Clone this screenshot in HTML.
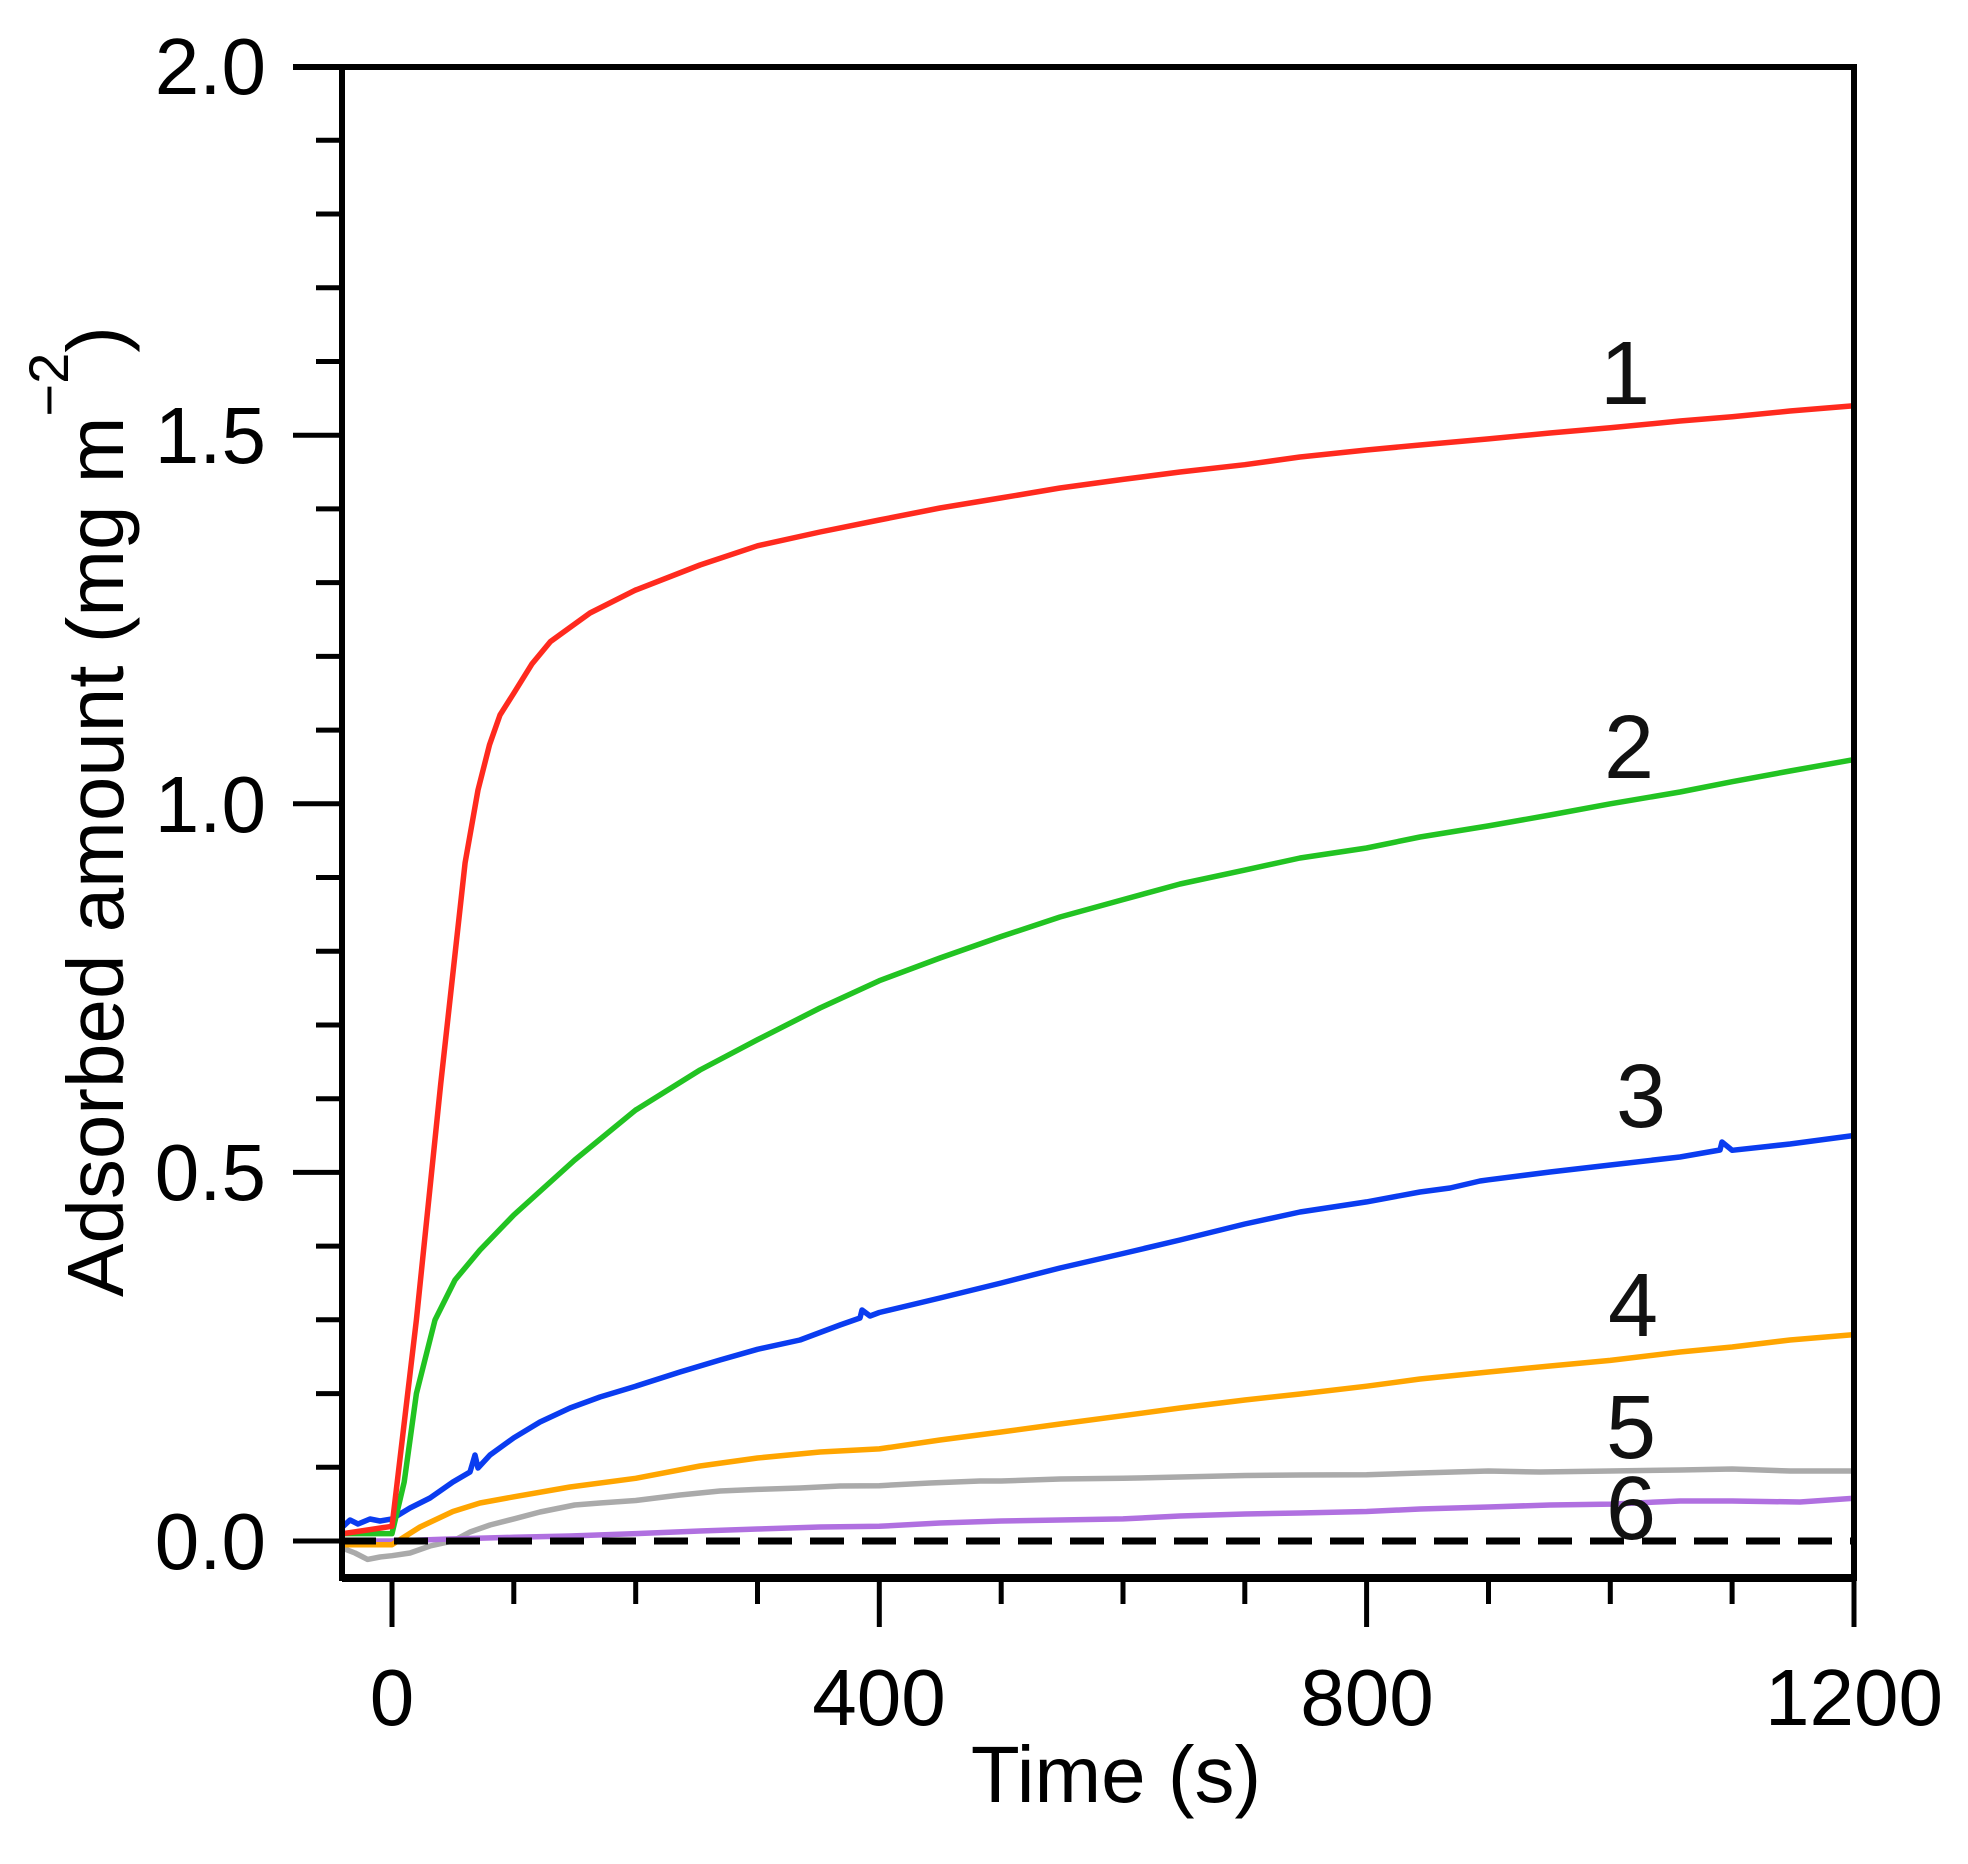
<!DOCTYPE html>
<html><head><meta charset="utf-8"><style>
html,body{margin:0;padding:0;background:#fff;}
svg{display:block;font-family:"Liberation Sans",sans-serif;}
</style></head><body>
<svg width="1968" height="1864" viewBox="0 0 1968 1864" xmlns="http://www.w3.org/2000/svg">
<rect width="1968" height="1864" fill="#fff"/>
<g fill="none" stroke-width="5.5" stroke-linejoin="round">
<polyline stroke="#aaaaaa" points="343.3,1548.4 355,1553 367.6,1559.4 380,1557 392,1555.7 410,1553 430,1546 452.9,1541 470,1532 490,1525 513.8,1518.9 540,1512 574.7,1505 600,1503 635.7,1500.5 680,1495 720,1491 757.5,1489.4 800,1488 840,1486 879.3,1485.7 930,1483 980,1481 1001.2,1481 1060,1479 1123,1478.3 1180,1477 1244.8,1475.5 1300,1475 1366.6,1474.7 1420,1473 1488.5,1471 1540,1472 1610.3,1471 1680,1470 1732.1,1469 1790,1471 1854,1471"/>
<polyline stroke="#b070e0" points="343.3,1541 392,1541 450,1539 513.8,1537.3 570,1536 635.7,1533.6 700,1531 757.5,1529 820,1527 879.3,1526.3 940,1523 1001.2,1521 1060,1520 1123,1518.9 1180,1516 1244.8,1514 1300,1513 1366.6,1511.5 1420,1509 1488.5,1507 1550,1505 1610.3,1504.1 1680,1501 1732.1,1501 1800,1502 1854,1498.2"/>
<polyline stroke="#ffa500" points="343.3,1544.7 392,1544.7 420,1527 452.9,1511.5 480,1503 513.8,1496.8 570,1487 635.7,1478.3 700,1466 757.5,1458 820,1452 879.3,1448.9 940,1440 1001.2,1432 1060,1424 1123,1415.7 1180,1408 1244.8,1400 1300,1394 1366.6,1386.2 1420,1379 1488.5,1372 1550,1366 1610.3,1360.4 1680,1352 1732.1,1347 1790,1340 1854,1334.6"/>
<polyline stroke="#0a3cf0" points="343.3,1526.3 350,1520 358,1524 370,1519 380,1521 392,1518.9 410,1508 430,1498 452.9,1482 470,1472 475,1455 478,1468 490,1455 513.8,1437.8 540,1422 570,1408 600,1397 635.7,1386.2 680,1372 720,1360 757.5,1349.3 800,1340 840,1325 860,1318 862,1310 870,1316 879.3,1312.5 940,1298 1001.2,1283 1060,1268 1123,1253.5 1180,1240 1244.8,1224 1300,1212 1366.6,1201.9 1420,1192 1450,1188 1480,1181 1488.5,1179.8 1550,1172 1610.3,1165 1680,1157 1720,1150 1722,1142 1732.1,1150.3 1790,1144 1854,1135.5"/>
<polyline stroke="#22c322" points="343.3,1533.6 392,1533.6 404.2,1482 416.4,1393.6 435,1320 455,1280 480,1250 513.8,1215 574.7,1160 635.7,1110 700,1070 757.5,1039.7 820,1008 879.3,980.7 940,958 1001.2,936.5 1060,917 1123,899.6 1180,884 1244.8,870.1 1300,858 1366.6,848 1420,837 1488.5,825.9 1550,815 1610.3,803.8 1680,792 1732.1,781.7 1790,771 1854,759.6"/>
<polyline stroke="#ff2a1e" points="343.3,1533.6 392,1526.3 416.4,1319.8 440.7,1084 465.1,862.8 478,790 489.5,744.8 500,715 513.8,693.2 532.1,663.7 550.4,641.6 590,613 635.7,590 700,565 757.5,545.8 820,532 879.3,520 940,508 1001.2,497.9 1060,488 1123,479.4 1180,472 1244.8,464.7 1300,457 1366.6,450 1420,445 1488.5,438.9 1550,433 1610.3,427.8 1680,421 1732.1,416.8 1790,411 1854,405.7"/>
</g>
<line x1="342" y1="1541" x2="1854" y2="1541" stroke="#000" stroke-width="7" stroke-dasharray="34,18"/>
<g stroke="#000" stroke-width="6" fill="none">
<polyline points="293,67 1854,67 1854,1578 342,1578 342,67"/>
<line x1="342" y1="1578" x2="1854" y2="1578" stroke-width="8"/>
</g>
<g stroke="#000" stroke-width="5">
<line x1="293" y1="1541" x2="342" y2="1541"/><line x1="316" y1="1467.3" x2="342" y2="1467.3"/><line x1="316" y1="1393.6" x2="342" y2="1393.6"/><line x1="316" y1="1319.8" x2="342" y2="1319.8"/><line x1="316" y1="1246.1" x2="342" y2="1246.1"/>
<line x1="293" y1="1172.4" x2="342" y2="1172.4"/><line x1="316" y1="1098.7" x2="342" y2="1098.7"/><line x1="316" y1="1025" x2="342" y2="1025"/><line x1="316" y1="951.2" x2="342" y2="951.2"/><line x1="316" y1="877.5" x2="342" y2="877.5"/>
<line x1="293" y1="803.8" x2="342" y2="803.8"/><line x1="316" y1="730.1" x2="342" y2="730.1"/><line x1="316" y1="656.4" x2="342" y2="656.4"/><line x1="316" y1="582.6" x2="342" y2="582.6"/><line x1="316" y1="508.9" x2="342" y2="508.9"/>
<line x1="293" y1="435.2" x2="342" y2="435.2"/><line x1="316" y1="361.5" x2="342" y2="361.5"/><line x1="316" y1="287.8" x2="342" y2="287.8"/><line x1="316" y1="214" x2="342" y2="214"/><line x1="316" y1="140.3" x2="342" y2="140.3"/>
<line x1="392" y1="1578" x2="392" y2="1627"/><line x1="513.8" y1="1578" x2="513.8" y2="1604"/><line x1="635.7" y1="1578" x2="635.7" y2="1604"/><line x1="757.5" y1="1578" x2="757.5" y2="1604"/>
<line x1="879.3" y1="1578" x2="879.3" y2="1627"/><line x1="1001.2" y1="1578" x2="1001.2" y2="1604"/><line x1="1123" y1="1578" x2="1123" y2="1604"/><line x1="1244.8" y1="1578" x2="1244.8" y2="1604"/>
<line x1="1366.6" y1="1578" x2="1366.6" y2="1627"/><line x1="1488.5" y1="1578" x2="1488.5" y2="1604"/><line x1="1610.3" y1="1578" x2="1610.3" y2="1604"/><line x1="1732.1" y1="1578" x2="1732.1" y2="1604"/>
<line x1="1854" y1="1578" x2="1854" y2="1627"/>
</g>
<g font-size="80" fill="#000" text-anchor="end">
<text x="266" y="94">2.0</text>
<text x="266" y="463">1.5</text>
<text x="266" y="832">1.0</text>
<text x="266" y="1200">0.5</text>
<text x="266" y="1569">0.0</text>
</g>
<g font-size="80" fill="#000" text-anchor="middle">
<text x="392" y="1725">0</text>
<text x="879" y="1725">400</text>
<text x="1367" y="1725">800</text>
<text x="1854" y="1725">1200</text>
<text x="1116" y="1802">Time (s)</text>
</g>
<text transform="translate(123,1297) rotate(-90)" font-size="80" fill="#000">Adsorbed amount (mg m<tspan dy="-55" font-size="56">−2</tspan><tspan dy="55">)</tspan></text>
<g font-size="90" fill="#111" text-anchor="middle">
<text x="1625" y="404">1</text>
<text x="1629" y="778">2</text>
<text x="1641" y="1127">3</text>
<text x="1633" y="1336">4</text>
<text x="1631" y="1458">5</text>
<text x="1631" y="1539">6</text>
</g>
</svg>
</body></html>
